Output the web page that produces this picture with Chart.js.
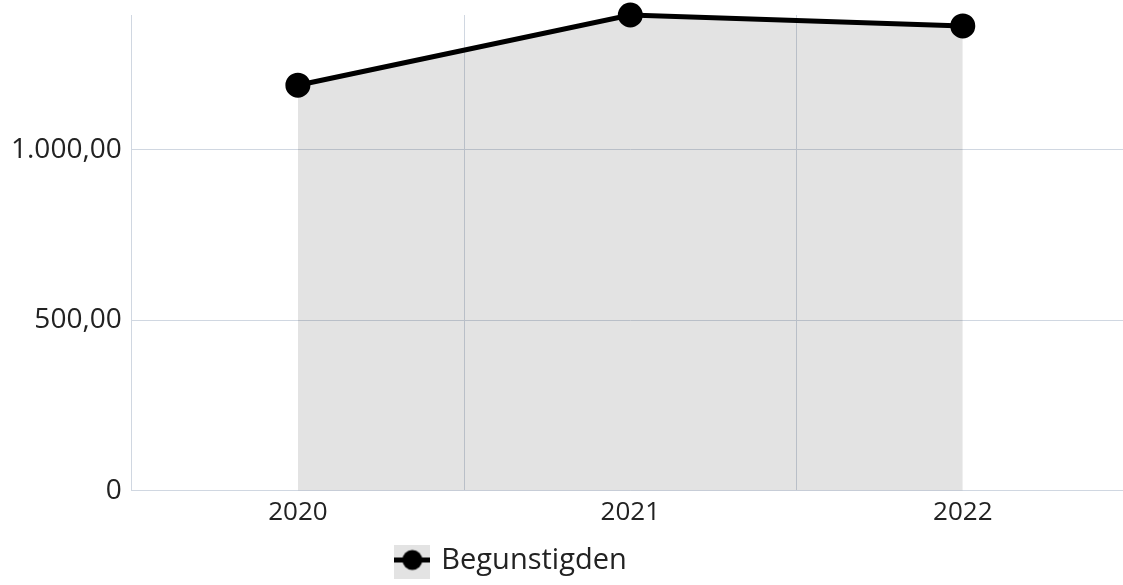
<!DOCTYPE html>
<html>
<head>
<meta charset="utf-8">
<script src="https://cdn.jsdelivr.net/npm/chart.js@4"></script>
<style>
  html, body { margin: 0; padding: 0; background: #fff; overflow: hidden; }
  /* plot runs a few px past the right edge, as in the original */
  #wrap { width: 1129px; height: 585px; }
</style>
</head>
<body>
<div id="wrap"><canvas id="chart"></canvas></div>
<script>
var years = ['2020', '2021', '2022'];
var begunstigden = [1190, 1396, 1364];
var yTicks = [0, 500, 1000];

var gridColor = '#d0d7e1';
var textColor = '#222';
var fillColor = 'rgba(0, 0, 0, 0.11)';

// legend icon: grey box with line and dot
var icon = document.createElement('canvas');
icon.width = 36; icon.height = 36;
var ic = icon.getContext('2d');
ic.fillStyle = '#e3e3e3';
ic.fillRect(0, 0, 36, 36);
ic.fillStyle = '#000';
ic.fillRect(0, 15, 36, 5);
ic.beginPath();
ic.arc(18, 17.5, 10, 0, Math.PI * 2);
ic.fill();

Chart.defaults.font.family = '"Open Sans", "Noto Sans", sans-serif';
Chart.defaults.color = textColor;

var ctx = document.getElementById('chart').getContext('2d');
var myChart = new Chart(ctx, {
    type: 'line',
    data: {
        labels: years,
        datasets: [{
            label: 'Begunstigden',
            data: begunstigden,
            fill: 'origin',
            clip: false,
            borderColor: '#000',
            backgroundColor: fillColor,
            borderWidth: 5,
            pointRadius: 10,
            pointBackgroundColor: '#000',
            pointBorderColor: '#000',
            tension: 0
        }]
    },
    options: {
        responsive: true,
        maintainAspectRatio: false,
        animation: false,
        layout: { autoPadding: false, padding: { top: 15, left: 1, right: 0, bottom: 0 } },
        scales: {
            x: {
                offset: true,
                grid: { color: gridColor, offset: true, drawTicks: false },
                border: { color: gridColor },
                ticks: { font: { size: 26 }, padding: 6 },
                afterFit: function(axis) { axis.height += 11; }
            },
            y: {
                min: 0,
                max: Math.max.apply(null, begunstigden),
                grid: { color: gridColor, drawTicks: false },
                border: { color: gridColor },
                afterBuildTicks: function(axis) {
                    axis.ticks = yTicks.map(function(v) { return { value: v }; });
                },
                afterFit: function(axis) { axis.paddingTop = 0; },
                ticks: {
                    padding: 10,
                    font: { size: 28 },
                    callback: function(value) {
                        if (value === 0) return '0';
                        return value.toLocaleString('de-DE', { minimumFractionDigits: 2, maximumFractionDigits: 2 });
                    }
                }
            }
        },
        plugins: {
            legend: {
                position: 'bottom',
                labels: {
                    usePointStyle: true,
                    font: { size: 29 },
                    padding: 1,
                    generateLabels: function(chart) {
                        // trailing no-break spaces keep the item left of centre like the original
                        return [{
                            text: chart.data.datasets[0].label + '\u00a0'.repeat(14),
                            pointStyle: icon,
                            fillStyle: '#e3e3e3',
                            strokeStyle: '#000',
                            lineWidth: 0,
                            fontColor: textColor,
                            datasetIndex: 0
                        }];
                    }
                }
            },
            tooltip: { enabled: false }
        }
    }
});
</script>
</body>
</html>
